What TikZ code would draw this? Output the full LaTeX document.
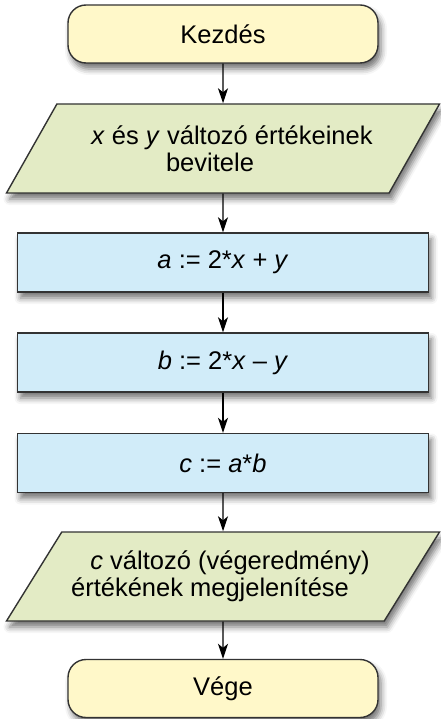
\documentclass[tikz,border=0pt]{standalone}
\usepackage{fontspec}
\setmainfont{Liberation Sans}
\usetikzlibrary{shapes.geometric,arrows.meta,shadows.blur}
\definecolor{termfill}{HTML}{FFF8C9}
\definecolor{iofill}{HTML}{E3EBC5}
\definecolor{opfill}{HTML}{D1ECF9}
\definecolor{edgegray}{HTML}{333333}

\begin{document}
\begin{tikzpicture}[x=1pt,y=-1pt,
  font=\fontsize{25.5}{26.5}\selectfont,
  box/.style={draw=edgegray,line width=1.4pt,
    blur shadow={shadow xshift=3pt,shadow yshift=-6pt,shadow blur radius=6pt,shadow opacity=55}},
  term/.style={box,fill=termfill,rounded corners=18pt,minimum width=310pt,minimum height=58pt},
  io/.style={box,fill=iofill,trapezium,trapezium left angle=46,trapezium right angle=134,
    trapezium stretches body,minimum width=433pt,minimum height=89pt,align=center},
  op/.style={box,fill=opfill,minimum width=411pt,minimum height=59pt},
  flow/.style={-{Stealth[length=15pt,width=10pt,inset=4pt]},line width=1.3pt}]
\useasboundingbox (0,0) rectangle (440,719);
\node[term] (start) at (223,34) {Kezdés};
\node[io] (in) at (223,148.5) {\hspace*{18pt}\textit{x} és \textit{y} változó értékeinek\\bevitele\hspace*{26pt}};
\node[op] (a) at (223,262.5) {\textit{a} := 2*\textit{x} + \textit{y}};
\node[op] (b) at (223,362.5) {\textit{b} := 2*\textit{x} – \textit{y}};
\node[op] (c) at (223,463) {\textit{c} := \textit{a}*\textit{b}};
\node[io] (out) at (223,576.5) {\hspace*{14pt}\textit{c} változó (végeredmény)\\értékének megjelenítése\hspace*{26pt}};
\node[term] (end) at (223,688.5) {Vége};
%
\foreach \u/\v in {start/in,in/a,a/b,b/c,c/out,out/end}
  \draw[flow] (\u) -- (\v);
\end{tikzpicture}
\end{document}
